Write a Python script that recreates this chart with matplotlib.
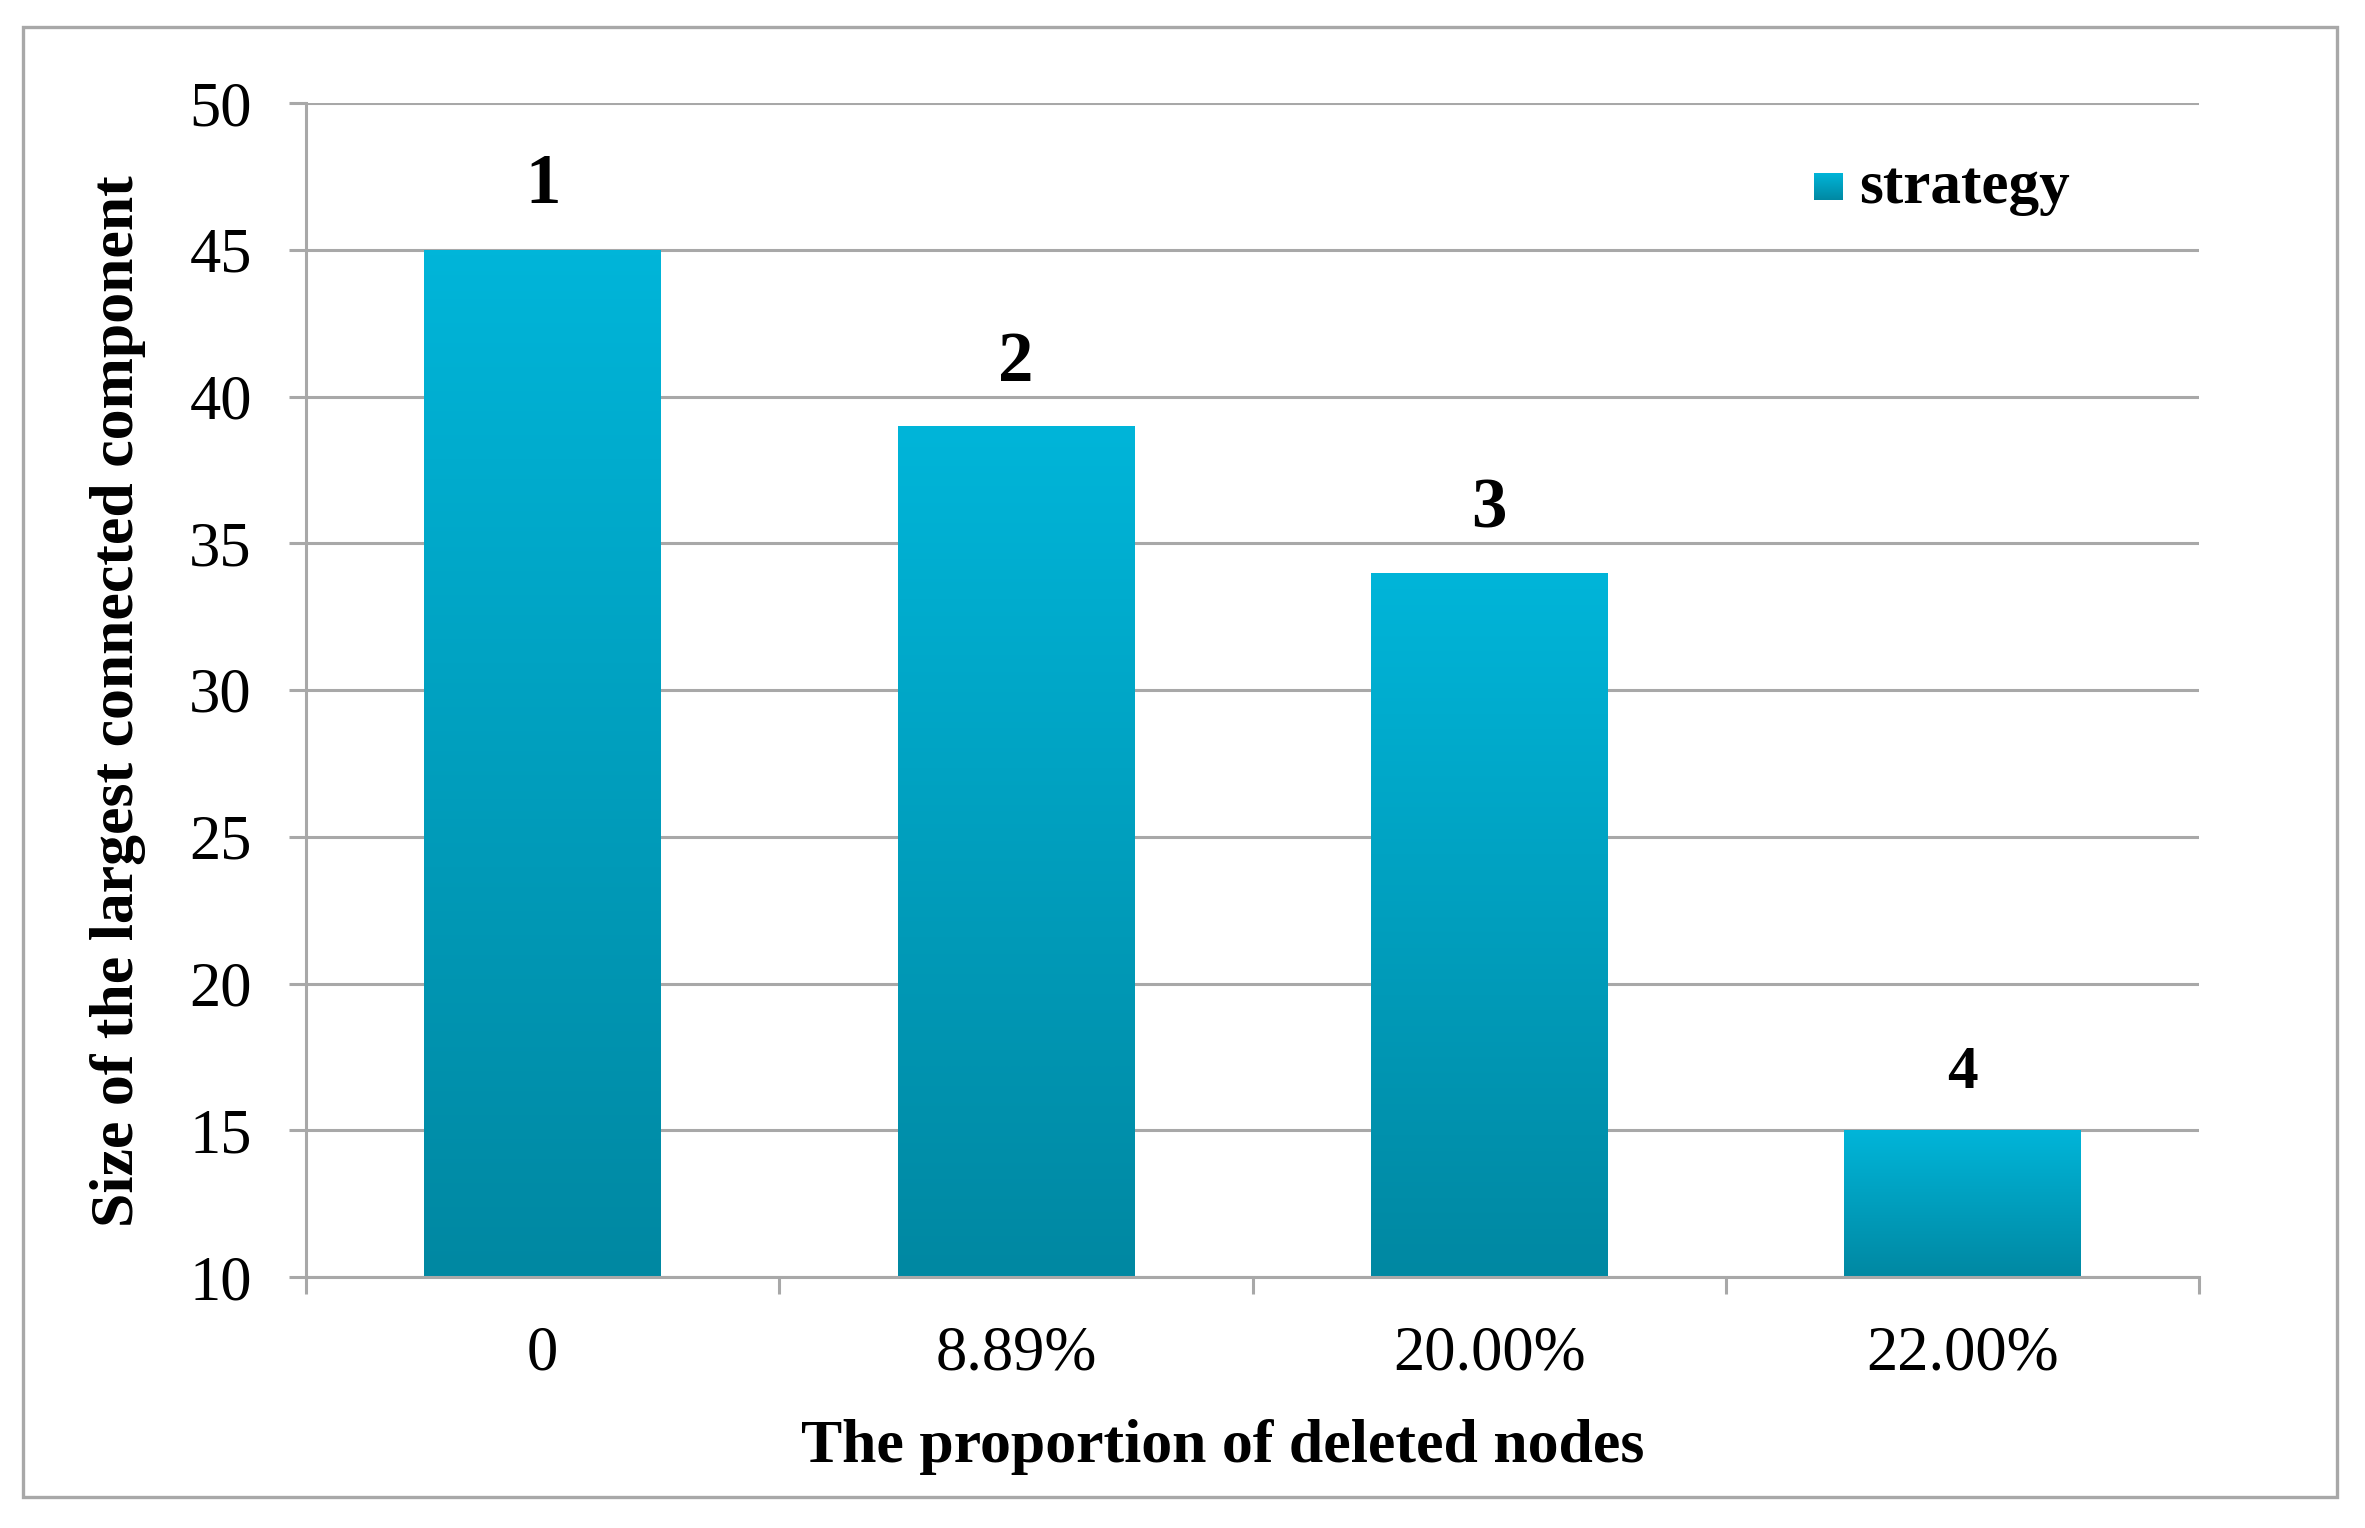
import numpy as np
import matplotlib
matplotlib.use("Agg")
import matplotlib.pyplot as plt
from matplotlib.colors import LinearSegmentedColormap
from matplotlib.patches import Rectangle

# ---- data ----
categories = ["0", "8.89%", "20.00%", "22.00%"]
values = [45, 39, 34, 15]
bar_labels = ["1", "2", "3", "4"]
series_name = "strategy"
y_ticks = [10, 15, 20, 25, 30, 35, 40, 45, 50]
x_title = "The proportion of deleted nodes"
y_title = "Size of the largest connected component"

# ---- style ----
label_sizes = [51, 51, 51, 44]
label_offsets = [47, 45, 45, 42]
FONT = ["Liberation Serif", "DejaVu Serif"]
plt.rcParams["font.family"] = FONT
GRID = "#A8A8A8"
TOP_C = "#00B5D9"
BOT_C = "#0088A2"
cmap = LinearSegmentedColormap.from_list("g", [BOT_C, TOP_C])

W, H = 2365, 1528
fig = plt.figure(figsize=(W / 100, H / 100), dpi=100)
fig.patch.set_facecolor("white")

ax = fig.add_axes([306 / W, 1 - 1277 / H, (2199 - 306) / W, (1277 - 103) / H])
ymin, ymax = 10, 50
x = np.arange(len(categories))
bw = 0.5

bars = ax.bar(x, values, width=bw, color="none", edgecolor="none", zorder=3)
grad = np.linspace(0, 1, 256).reshape(-1, 1)
for b, v in zip(bars, values):
    x0 = b.get_x()
    im = ax.imshow(grad, cmap=cmap, origin="lower", aspect="auto",
                   extent=[x0, x0 + bw, ymin, v], zorder=3, interpolation="bicubic")
    im.set_clip_path(b)

for xi, v, lab, fs, off in zip(x, values, bar_labels, label_sizes, label_offsets):
    ax.annotate(lab, (xi, v), xytext=(0, off * 0.72), textcoords="offset points",
                ha="center", va="baseline", fontsize=fs, fontweight="bold", color="black")

ax.set_xlim(-0.5, len(categories) - 0.5)
ax.set_ylim(ymin, ymax)
ax.set_yticks(y_ticks)
ax.set_yticklabels([str(t) for t in y_ticks])
ax.set_xticks(x)
ax.set_xticklabels(categories)
ax.set_xticks(np.arange(-0.5, len(categories)), minor=True)

ax.yaxis.grid(True, color=GRID, linewidth=2.2, zorder=1)
ax.set_axisbelow(True)
for s in ["top", "right"]:
    ax.spines[s].set_visible(False)
for s in ["left", "bottom"]:
    ax.spines[s].set_color(GRID)
    ax.spines[s].set_linewidth(2.2)
    ax.spines[s].set_zorder(4)

ax.tick_params(axis="y", which="major", length=12, width=2.2, color=GRID,
               pad=27, labelsize=45, labelcolor="black")
ax.tick_params(axis="x", which="major", length=0, pad=35, labelsize=45, labelcolor="black")
ax.tick_params(axis="x", which="minor", length=12, width=2.2, color=GRID, direction="out")

fig.text(1223 / W, 1 - 1462 / H, x_title, ha="center", va="baseline",
         fontsize=44.5, fontweight="bold")
fig.text(118 / W, 1 - 701 / H, y_title, ha="center", va="center", rotation=90,
         fontsize=44.5, fontweight="bold")

# legend (manual)
lx0, lx1, ly0, ly1 = 1814 / W, 1843 / W, 1 - 200 / H, 1 - 173 / H
lim = fig.add_axes([lx0, ly0, lx1 - lx0, ly1 - ly0])
lim.imshow(grad, cmap=cmap, origin="lower", aspect="auto", interpolation="bicubic")
lim.set_axis_off()
fig.text(1859 / W, 1 - 188 / H, series_name, ha="left", va="center",
         fontsize=44, fontweight="bold")

# outer frame
fig.patches.append(Rectangle((23 / W, 1 - 1497 / H), (2337 - 23) / W, (1497 - 27) / H,
                             transform=fig.transFigure, fill=False,
                             edgecolor="#A8A8A8", linewidth=2.4, zorder=0))

fig.savefig("out.png", dpi=100, facecolor="white")
